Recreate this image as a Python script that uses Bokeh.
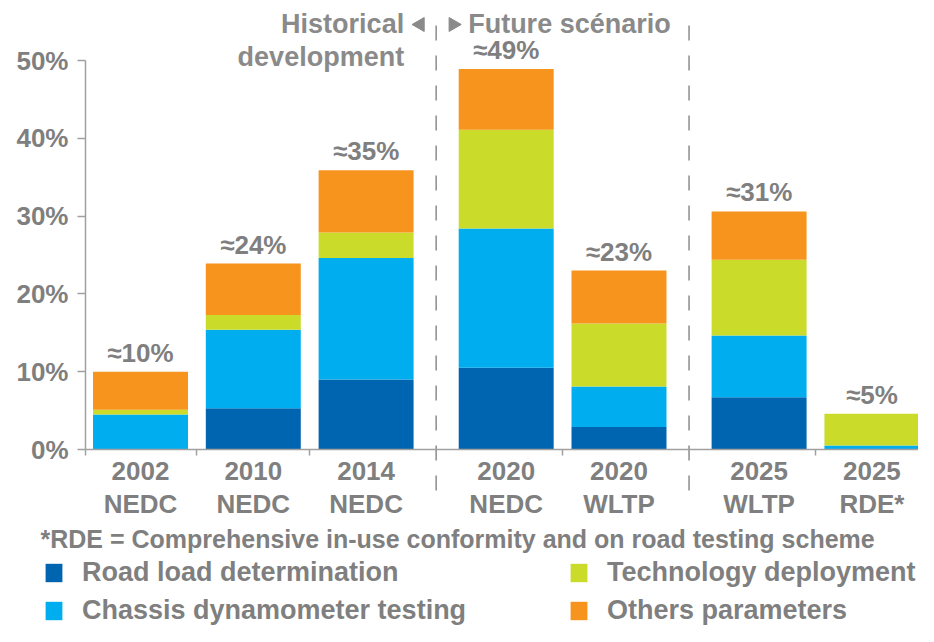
from bokeh.plotting import figure
from bokeh.models import Range1d, FixedTicker, Legend, LegendItem, ColumnDataSource
from bokeh.core.properties import value
from bokeh.embed import file_html
from bokeh.resources import INLINE

# ---------------- data ----------------
years = ["2002", "2010", "2014", "2020", "2020", "2025", "2025"]
cycles = ["NEDC", "NEDC", "NEDC", "NEDC", "WLTP", "WLTP", "RDE*"]
groups = [0, 0, 0, 1, 1, 2, 2]          # historical / 2020 scenario / 2025 scenario
total_labels = ["≈10%", "≈24%", "≈35%", "≈49%", "≈23%", "≈31%", "≈5%"]
road = [0.0, 5.3, 9.0, 10.5, 2.9, 6.7, 0.0]
chassis = [4.5, 10.1, 15.6, 17.9, 5.2, 7.95, 0.5]
tech = [0.6, 1.9, 3.3, 12.7, 8.1, 9.75, 4.1]
others = [4.9, 6.6, 8.0, 7.8, 6.8, 6.2, 0.0]
series_keys = ["road", "chassis", "tech", "others"]
series_names = ["Road load determination", "Chassis dynamometer testing",
                "Technology deployment", "Others parameters"]
y_ticks = [0, 10, 20, 30, 40, 50]
footnote = "*RDE = Comprehensive in-use conformity and on road testing scheme"
hist_text = ["Historical", "development"]
future_text = "Future scénario"

# ---------------- style / layout ----------------
COLORS = ["#0065B0", "#00AEEF", "#CADB2A", "#F7941D"]
GREY = "#7F7F7F"
LGREY = "#8A8A8A"
AXIS = "#A0A0A0"
FONT = "Liberation Sans"
W, H = 918, 626
U = 112.8          # px per category unit
PX = 7.78          # px per percent
GAP = 0.242        # extra gap between groups (category units)
FIRST_PX = 140     # canvas px of first bar centre
ZERO_PX = 449      # canvas px of 0 %

X0 = -FIRST_PX / U
X1 = X0 + W / U
Y1 = ZERO_PX / PX
Y0 = Y1 - H / PX

def dx(px):
    return X0 + px / U

def dy(py):
    return Y1 - py / PX

xs = [i + GAP * g for i, g in enumerate(groups)]
totals = [a + b + c + d for a, b, c, d in zip(road, chassis, tech, others)]
y_axis_x = xs[0] - 55 / U
seps = [(xs[i] + xs[i + 1]) / 2 for i in range(len(xs) - 1) if groups[i] != groups[i + 1]]
ticks_between = [(xs[i] + xs[i + 1]) / 2 for i in range(len(xs) - 1) if groups[i] == groups[i + 1]]

src = ColumnDataSource(dict(x=xs, road=road, chassis=chassis, tech=tech, others=others,
                            total=totals, lab=total_labels))

p = figure(width=W, height=H, output_backend="svg", toolbar_location=None,
           x_range=Range1d(X0, X1), y_range=Range1d(Y0, Y1),
           min_border_left=0, min_border_right=0, min_border_top=0, min_border_bottom=0)
p.outline_line_color = None
p.xgrid.visible = False
p.ygrid.visible = False
p.background_fill_color = "white"

# bars
rs = p.vbar_stack(series_keys, x="x", width=0.842, color=COLORS, source=src, line_color=None)

# total labels
p.text(x="x", y="total", text="lab", source=src, y_offset=-19,
       text_align="center", text_baseline="middle", text_font=value(FONT),
       text_font_style="bold", text_font_size="26px", text_color=GREY)

# dashed separators
p.segment(x0=seps, x1=seps, y0=[dy(490)] * len(seps), y1=[dy(25)] * len(seps),
          line_color="#8C8C8C", line_width=1.5, line_dash="15 15")

# top annotations
s1 = seps[0]
p.text(x=[s1, s1], y=[dy(23), dy(56)], text=hist_text, x_offset=-32,
       text_align="right", text_baseline="middle", text_font=value(FONT),
       text_font_style="bold", text_font_size="27px", text_color=LGREY)
p.text(x=[s1], y=[dy(23)], text=[future_text], x_offset=32,
       text_align="left", text_baseline="middle", text_font=value(FONT),
       text_font_style="bold", text_font_size="27px", text_color=LGREY)
p.scatter(x=[s1 - 16 / U], y=[dy(24)], marker="triangle", size=14, angle=1.5708,
          color=LGREY)
p.scatter(x=[s1 + 17 / U], y=[dy(24)], marker="triangle", size=14, angle=-1.5708,
          color=LGREY)

# footnote
p.text(x=[dx(40)], y=[dy(538)], text=[footnote], text_align="left",
       text_baseline="middle", text_font=value(FONT), text_font_style="bold",
       text_font_size="25px", text_color=GREY)

# y axis
ya = p.yaxis[0]
ya.fixed_location = y_axis_x
ya.bounds = (0, 50)
ya.ticker = FixedTicker(ticks=y_ticks)
ya.major_label_overrides = {t: f"{t}%" for t in y_ticks}
ya.axis_line_color = AXIS
ya.axis_line_width = 1.5
ya.major_tick_line_color = AXIS
ya.major_tick_line_width = 1.5
ya.major_tick_out = 8
ya.major_tick_in = 0
ya.minor_tick_line_color = None
ya.major_label_standoff = 9
ya.major_label_text_font = FONT
ya.major_label_text_font_style = "bold"
ya.major_label_text_font_size = "26px"
ya.major_label_text_color = GREY

# x axis
xa = p.xaxis[0]
xa.fixed_location = 0
xa.bounds = (y_axis_x, X1)
xa.ticker = FixedTicker(ticks=xs, minor_ticks=[y_axis_x] + ticks_between)
xa.major_label_overrides = {x: f"{yv}\n{c}" for x, yv, c in zip(xs, years, cycles)}
xa.axis_line_color = AXIS
xa.axis_line_width = 1.5
xa.major_tick_line_color = None
xa.major_tick_out = 0
xa.major_tick_in = 0
xa.minor_tick_line_color = AXIS
xa.minor_tick_line_width = 1.5
xa.minor_tick_out = 6
xa.minor_tick_in = 0
xa.major_label_standoff = 0
xa.major_label_text_font = FONT
xa.major_label_text_font_style = "bold"
xa.major_label_text_font_size = "26px"
xa.major_label_text_color = GREY
xa.major_label_text_line_height = 1.12

# legends (two columns)
def make_legend(idx, loc):
    lg = Legend(items=[LegendItem(label=series_names[i], renderers=[rs[i]]) for i in idx],
                location=loc, orientation="vertical", glyph_width=21, glyph_height=23,
                label_standoff=18, spacing=7, padding=0, margin=0,
                border_line_color=None, background_fill_alpha=0,
                label_text_font=FONT, label_text_font_style="bold",
                label_text_font_size="27px", label_text_color=GREY, label_height=23)
    p.add_layout(lg, "center")

make_legend([0, 1], (43, 0))
make_legend([2, 3], (568, 0))

open("out.html", "w").write(file_html(p, INLINE))
